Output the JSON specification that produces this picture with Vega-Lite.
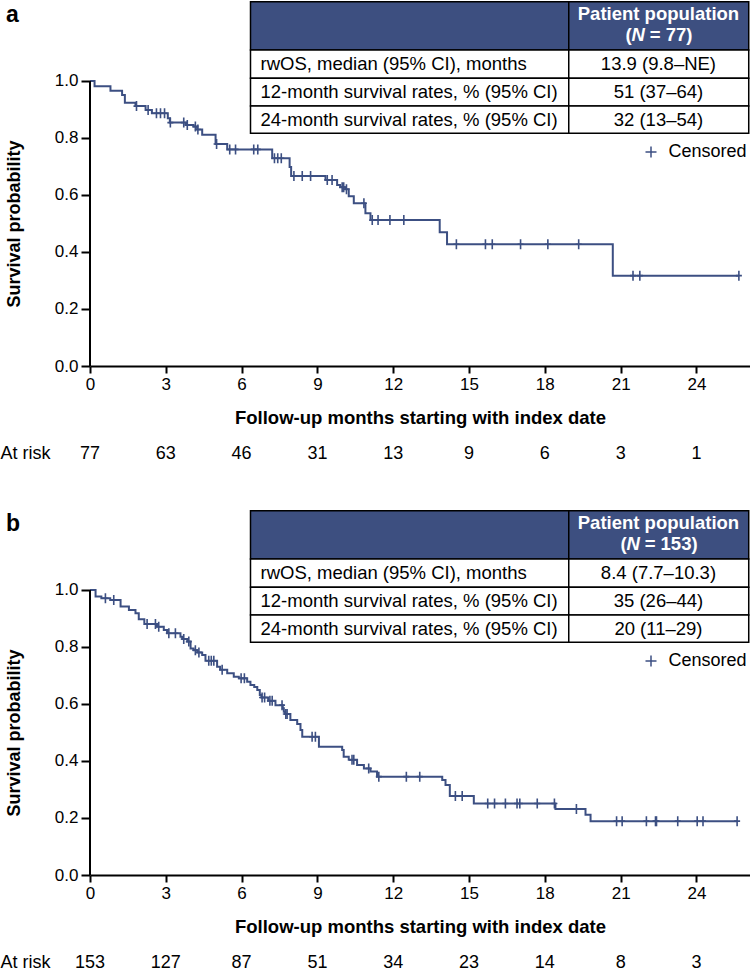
{
  "$schema": "https://vega.github.io/schema/vega-lite/v6.json",
  "padding": 0,
  "background": "white",
  "bounds": "flush",
  "spacing": 143,
  "config": {
    "view": {"stroke": null},
    "font": "Liberation Sans"
  },
  "resolve": {"scale": {"color": "independent"}, "legend": {"color": "independent"}},
  "datasets": {
    "km": [
      {"p":"a","t":0,"s":1,"c":0},{"p":"a","t":0.18,"s":0.982,"c":0},{"p":"a","t":0.81,"s":0.966,"c":0},{"p":"a","t":1.27,"s":0.951,"c":0},
      {"p":"a","t":1.38,"s":0.924,"c":0},{"p":"a","t":1.8,"s":0.912,"c":0},{"p":"a","t":1.84,"s":0.912,"c":1},{"p":"a","t":2.2,"s":0.898,"c":0},
      {"p":"a","t":2.3,"s":0.898,"c":1},{"p":"a","t":2.45,"s":0.887,"c":0},{"p":"a","t":2.63,"s":0.887,"c":1},{"p":"a","t":2.79,"s":0.887,"c":1},
      {"p":"a","t":2.95,"s":0.887,"c":1},{"p":"a","t":3.08,"s":0.869,"c":0},{"p":"a","t":3.16,"s":0.854,"c":0},{"p":"a","t":3.18,"s":0.854,"c":1},
      {"p":"a","t":3.71,"s":0.854,"c":1},{"p":"a","t":3.8,"s":0.846,"c":0},{"p":"a","t":3.85,"s":0.846,"c":1},{"p":"a","t":4.1,"s":0.84,"c":0},
      {"p":"a","t":4.17,"s":0.84,"c":1},{"p":"a","t":4.24,"s":0.83,"c":0},{"p":"a","t":4.27,"s":0.83,"c":1},{"p":"a","t":4.44,"s":0.811,"c":0},
      {"p":"a","t":4.97,"s":0.779,"c":0},{"p":"a","t":5.01,"s":0.779,"c":1},{"p":"a","t":5.43,"s":0.76,"c":0},{"p":"a","t":5.53,"s":0.76,"c":1},
      {"p":"a","t":5.76,"s":0.76,"c":1},{"p":"a","t":6.48,"s":0.76,"c":1},{"p":"a","t":6.64,"s":0.76,"c":1},{"p":"a","t":7.21,"s":0.729,"c":0},
      {"p":"a","t":7.3,"s":0.729,"c":1},{"p":"a","t":7.43,"s":0.729,"c":1},{"p":"a","t":7.57,"s":0.729,"c":1},{"p":"a","t":7.9,"s":0.698,"c":0},
      {"p":"a","t":7.96,"s":0.667,"c":0},{"p":"a","t":8.07,"s":0.667,"c":1},{"p":"a","t":8.4,"s":0.667,"c":1},{"p":"a","t":8.73,"s":0.667,"c":1},
      {"p":"a","t":9.32,"s":0.653,"c":0},{"p":"a","t":9.39,"s":0.653,"c":1},{"p":"a","t":9.58,"s":0.653,"c":1},{"p":"a","t":9.78,"s":0.635,"c":0},
      {"p":"a","t":9.9,"s":0.627,"c":0},{"p":"a","t":9.98,"s":0.627,"c":1},{"p":"a","t":10.04,"s":0.627,"c":1},{"p":"a","t":10.1,"s":0.62,"c":0},
      {"p":"a","t":10.15,"s":0.62,"c":1},{"p":"a","t":10.24,"s":0.596,"c":0},{"p":"a","t":10.44,"s":0.571,"c":0},{"p":"a","t":10.84,"s":0.571,"c":1},
      {"p":"a","t":10.9,"s":0.536,"c":0},{"p":"a","t":11.1,"s":0.512,"c":0},{"p":"a","t":11.17,"s":0.512,"c":1},{"p":"a","t":11.4,"s":0.512,"c":1},
      {"p":"a","t":11.87,"s":0.512,"c":1},{"p":"a","t":12.42,"s":0.512,"c":1},{"p":"a","t":13.84,"s":0.469,"c":0},{"p":"a","t":14.13,"s":0.427,"c":0},
      {"p":"a","t":14.5,"s":0.427,"c":1},{"p":"a","t":15.65,"s":0.427,"c":1},{"p":"a","t":15.92,"s":0.427,"c":1},{"p":"a","t":17.04,"s":0.427,"c":1},
      {"p":"a","t":18.12,"s":0.427,"c":1},{"p":"a","t":19.34,"s":0.427,"c":1},{"p":"a","t":20.69,"s":0.317,"c":0},{"p":"a","t":21.49,"s":0.317,"c":1},
      {"p":"a","t":21.76,"s":0.317,"c":1},{"p":"a","t":25.68,"s":0.317,"c":1},

      {"p":"b","t":0,"s":1,"c":0},{"p":"b","t":0.22,"s":0.977,"c":0},{"p":"b","t":0.45,"s":0.971,"c":0},{"p":"b","t":0.61,"s":0.971,"c":1},
      {"p":"b","t":0.8,"s":0.965,"c":0},{"p":"b","t":0.94,"s":0.965,"c":1},{"p":"b","t":1.21,"s":0.942,"c":0},{"p":"b","t":1.54,"s":0.93,"c":0},
      {"p":"b","t":1.8,"s":0.918,"c":0},{"p":"b","t":1.93,"s":0.897,"c":0},{"p":"b","t":2.15,"s":0.881,"c":0},{"p":"b","t":2.26,"s":0.881,"c":1},
      {"p":"b","t":2.59,"s":0.881,"c":1},{"p":"b","t":2.65,"s":0.871,"c":0},{"p":"b","t":2.72,"s":0.871,"c":1},{"p":"b","t":2.92,"s":0.86,"c":0},
      {"p":"b","t":3.05,"s":0.848,"c":0},{"p":"b","t":3.12,"s":0.848,"c":1},{"p":"b","t":3.38,"s":0.848,"c":1},{"p":"b","t":3.58,"s":0.836,"c":0},
      {"p":"b","t":3.65,"s":0.828,"c":0},{"p":"b","t":3.71,"s":0.828,"c":1},{"p":"b","t":3.85,"s":0.819,"c":0},{"p":"b","t":3.91,"s":0.819,"c":1},
      {"p":"b","t":3.98,"s":0.795,"c":0},{"p":"b","t":4.1,"s":0.789,"c":0},{"p":"b","t":4.17,"s":0.789,"c":1},{"p":"b","t":4.25,"s":0.781,"c":0},
      {"p":"b","t":4.31,"s":0.781,"c":1},{"p":"b","t":4.44,"s":0.772,"c":0},{"p":"b","t":4.57,"s":0.752,"c":0},{"p":"b","t":4.7,"s":0.752,"c":1},
      {"p":"b","t":4.8,"s":0.752,"c":1},{"p":"b","t":4.9,"s":0.752,"c":1},{"p":"b","t":5.03,"s":0.731,"c":0},{"p":"b","t":5.15,"s":0.72,"c":0},
      {"p":"b","t":5.23,"s":0.72,"c":1},{"p":"b","t":5.43,"s":0.708,"c":0},{"p":"b","t":5.69,"s":0.696,"c":0},{"p":"b","t":5.89,"s":0.69,"c":0},
      {"p":"b","t":5.98,"s":0.69,"c":1},{"p":"b","t":6.11,"s":0.69,"c":1},{"p":"b","t":6.22,"s":0.678,"c":0},{"p":"b","t":6.35,"s":0.667,"c":0},
      {"p":"b","t":6.5,"s":0.66,"c":0},{"p":"b","t":6.62,"s":0.649,"c":0},{"p":"b","t":6.72,"s":0.632,"c":0},{"p":"b","t":6.78,"s":0.623,"c":0},
      {"p":"b","t":6.81,"s":0.623,"c":1},{"p":"b","t":6.91,"s":0.623,"c":1},{"p":"b","t":7.05,"s":0.611,"c":0},{"p":"b","t":7.12,"s":0.611,"c":1},
      {"p":"b","t":7.21,"s":0.611,"c":1},{"p":"b","t":7.34,"s":0.596,"c":0},{"p":"b","t":7.6,"s":0.596,"c":1},{"p":"b","t":7.63,"s":0.585,"c":0},
      {"p":"b","t":7.67,"s":0.573,"c":0},{"p":"b","t":7.72,"s":0.565,"c":0},{"p":"b","t":7.75,"s":0.565,"c":1},{"p":"b","t":7.8,"s":0.565,"c":1},
      {"p":"b","t":7.93,"s":0.544,"c":0},{"p":"b","t":8.2,"s":0.53,"c":0},{"p":"b","t":8.33,"s":0.509,"c":0},{"p":"b","t":8.4,"s":0.485,"c":0},
      {"p":"b","t":8.79,"s":0.485,"c":1},{"p":"b","t":8.92,"s":0.485,"c":1},{"p":"b","t":9.06,"s":0.45,"c":0},{"p":"b","t":9.98,"s":0.439,"c":0},
      {"p":"b","t":10.04,"s":0.415,"c":0},{"p":"b","t":10.24,"s":0.404,"c":0},{"p":"b","t":10.37,"s":0.404,"c":1},{"p":"b","t":10.44,"s":0.404,"c":1},
      {"p":"b","t":10.57,"s":0.386,"c":0},{"p":"b","t":10.84,"s":0.374,"c":0},{"p":"b","t":11.03,"s":0.374,"c":1},{"p":"b","t":11.1,"s":0.363,"c":0},
      {"p":"b","t":11.36,"s":0.345,"c":0},{"p":"b","t":11.43,"s":0.345,"c":1},{"p":"b","t":12.52,"s":0.345,"c":1},{"p":"b","t":13.05,"s":0.345,"c":1},
      {"p":"b","t":13.94,"s":0.333,"c":0},{"p":"b","t":14.07,"s":0.316,"c":0},{"p":"b","t":14.24,"s":0.277,"c":0},{"p":"b","t":14.46,"s":0.277,"c":1},
      {"p":"b","t":14.73,"s":0.277,"c":1},{"p":"b","t":15.19,"s":0.251,"c":0},{"p":"b","t":15.74,"s":0.251,"c":1},{"p":"b","t":16.01,"s":0.251,"c":1},
      {"p":"b","t":16.44,"s":0.251,"c":1},{"p":"b","t":16.9,"s":0.251,"c":1},{"p":"b","t":17.01,"s":0.251,"c":1},{"p":"b","t":17.7,"s":0.251,"c":1},
      {"p":"b","t":18.38,"s":0.251,"c":1},{"p":"b","t":18.42,"s":0.232,"c":0},{"p":"b","t":19.25,"s":0.232,"c":1},{"p":"b","t":19.61,"s":0.211,"c":0},
      {"p":"b","t":19.81,"s":0.189,"c":0},{"p":"b","t":20.84,"s":0.189,"c":1},{"p":"b","t":21.06,"s":0.189,"c":1},{"p":"b","t":22.02,"s":0.189,"c":1},
      {"p":"b","t":22.38,"s":0.189,"c":1},{"p":"b","t":22.42,"s":0.189,"c":1},{"p":"b","t":23.26,"s":0.189,"c":1},{"p":"b","t":24.03,"s":0.189,"c":1},
      {"p":"b","t":24.26,"s":0.189,"c":1},{"p":"b","t":25.61,"s":0.189,"c":1}
    ],
    "risk": [
      {"p":"a","t":0,"n":77},{"p":"a","t":3,"n":63},{"p":"a","t":6,"n":46},{"p":"a","t":9,"n":31},{"p":"a","t":12,"n":13},
      {"p":"a","t":15,"n":9},{"p":"a","t":18,"n":6},{"p":"a","t":21,"n":3},{"p":"a","t":24,"n":1},
      {"p":"b","t":0,"n":153},{"p":"b","t":3,"n":127},{"p":"b","t":6,"n":87},{"p":"b","t":9,"n":51},{"p":"b","t":12,"n":34},
      {"p":"b","t":15,"n":23},{"p":"b","t":18,"n":14},{"p":"b","t":21,"n":8},{"p":"b","t":24,"n":3}
    ],
    "cells": [
      {"kind":"head","x1":6.352,"x2":18.947,"y1":1.1088,"y2":1.2782},
      {"kind":"head","x1":18.947,"x2":26.07,"y1":1.1088,"y2":1.2782},
      {"kind":"body","x1":6.352,"x2":18.947,"y1":1.0095,"y2":1.1088},
      {"kind":"body","x1":18.947,"x2":26.07,"y1":1.0095,"y2":1.1088},
      {"kind":"body","x1":6.352,"x2":18.947,"y1":0.9123,"y2":1.0095},
      {"kind":"body","x1":18.947,"x2":26.07,"y1":0.9123,"y2":1.0095},
      {"kind":"body","x1":6.352,"x2":18.947,"y1":0.8165,"y2":0.9123},
      {"kind":"body","x1":18.947,"x2":26.07,"y1":0.8165,"y2":0.9123}
    ],
    "txt": [
      {"p":"a","role":"panel","x":-3.32,"y":1.207,"text":"a"},
      {"p":"a","role":"hdr","x":22.497,"y":1.2351,"text":"Patient population"},
      {"p":"a","role":"hdrL","x":21.44,"y":1.1614,"text":"("},
      {"p":"a","role":"hdrN","x":21.696,"y":1.1614,"text":"N"},
      {"p":"a","role":"hdrR","x":22.15,"y":1.1614,"text":"= 77)"},
      {"p":"a","role":"lbl","x":6.748,"y":1.0589,"text":"rwOS, median (95% CI), months"},
      {"p":"a","role":"lbl","x":6.748,"y":0.9607,"text":"12-month survival rates, % (95% CI)"},
      {"p":"a","role":"lbl","x":6.748,"y":0.8642,"text":"24-month survival rates, % (95% CI)"},
      {"p":"a","role":"val","x":22.497,"y":1.0589,"text":"13.9 (9.8–NE)"},
      {"p":"a","role":"val","x":22.497,"y":0.9607,"text":"51 (37–64)"},
      {"p":"a","role":"val","x":22.497,"y":0.8642,"text":"32 (13–54)"},
      {"p":"a","role":"risklbl","x":-3.54,"y":-0.308,"text":"At risk"},
      {"p":"b","role":"panel","x":-3.32,"y":1.207,"text":"b"},
      {"p":"b","role":"hdr","x":22.497,"y":1.2351,"text":"Patient population"},
      {"p":"b","role":"hdrL","x":21.24,"y":1.1614,"text":"("},
      {"p":"b","role":"hdrN","x":21.5,"y":1.1614,"text":"N"},
      {"p":"b","role":"hdrR","x":21.95,"y":1.1614,"text":"= 153)"},
      {"p":"b","role":"lbl","x":6.748,"y":1.0589,"text":"rwOS, median (95% CI), months"},
      {"p":"b","role":"lbl","x":6.748,"y":0.9607,"text":"12-month survival rates, % (95% CI)"},
      {"p":"b","role":"lbl","x":6.748,"y":0.8642,"text":"24-month survival rates, % (95% CI)"},
      {"p":"b","role":"val","x":22.497,"y":1.0589,"text":"8.4 (7.7–10.3)"},
      {"p":"b","role":"val","x":22.497,"y":0.9607,"text":"35 (26–44)"},
      {"p":"b","role":"val","x":22.497,"y":0.8642,"text":"20 (11–29)"},
      {"p":"b","role":"risklbl","x":-3.54,"y":-0.308,"text":"At risk"}
    ]
  },
  "vconcat": [
    {
      "width": 660, "height": 366,
      "layer": [
        {"data": {"name": "km"}, "transform": [{"filter": "datum.p == 'a'"}],
         "mark": {"type": "line", "interpolate": "step-after", "color": "#3c4f82", "strokeWidth": 2},
         "encoding": {
           "x": {"field": "t", "type": "quantitative", "scale": {"domain": [0, 26.12], "nice": false, "zero": false},
                 "axis": {"title": "Follow-up months starting with index date", "values": [0,3,6,9,12,15,18,21,24], "format": "d", "grid": false,
                          "domainColor": "black", "domainWidth": 2, "tickColor": "black", "tickWidth": 2, "tickSize": 7,
                          "labelFontSize": 17, "labelColor": "black", "labelPadding": 3, "labelFlush": false, "labelOverlap": false,
                          "titleFontSize": 18.5, "titleFontWeight": "bold", "titleColor": "black", "titleBaseline": "middle", "titleY": 51}},
           "y": {"field": "s", "type": "quantitative", "scale": {"domain": [0, 1.2842], "nice": false},
                 "axis": {"title": "Survival probability", "values": [0,0.2,0.4,0.6,0.8,1], "format": ".1f", "grid": false, "domain": false,
                          "tickColor": "black", "tickWidth": 2, "tickSize": 9, "labelFontSize": 17, "labelColor": "black", "labelPadding": 3,
                          "labelFlush": false, "labelOverlap": false,
                          "titleFontSize": 18, "titleFontWeight": "bold", "titleColor": "black", "titleAngle": 270, "titleAlign": "center",
                          "titleBaseline": "middle", "titleX": -75.5, "titleY": 223.5}}
         }},
        {"data": {"name": "cells"}, "transform": [{"filter": "datum.kind == 'head'"}],
         "mark": {"type": "rect", "fill": "#3d4f80", "stroke": "black", "strokeWidth": 1.5},
         "encoding": {"x": {"field": "x1", "type": "quantitative"}, "x2": {"field": "x2"},
                      "y": {"field": "y1", "type": "quantitative"}, "y2": {"field": "y2"}}},
        {"data": {"name": "cells"}, "transform": [{"filter": "datum.kind == 'body'"}],
         "mark": {"type": "rect", "fill": "white", "stroke": "black", "strokeWidth": 1.5},
         "encoding": {"x": {"field": "x1", "type": "quantitative"}, "x2": {"field": "x2"},
                      "y": {"field": "y1", "type": "quantitative"}, "y2": {"field": "y2"}}},
        {"data": {"values": [{}]},
         "mark": {"type": "rule", "color": "black", "strokeWidth": 2},
         "encoding": {"x": {"datum": 0, "type": "quantitative"},
                      "y": {"datum": 0, "type": "quantitative"}, "y2": {"datum": 1}}},
        {"data": {"name": "km"}, "transform": [{"filter": "datum.p == 'a' && datum.c == 1"}],
         "mark": {"type": "point", "shape": "M0,-1V1M-0.6,0H0.6", "filled": false, "strokeWidth": 1.6, "size": 100, "opacity": 1},
         "encoding": {
           "x": {"field": "t", "type": "quantitative"},
           "y": {"field": "s", "type": "quantitative"},
           "color": {"datum": "Censored", "type": "nominal", "scale": {"domain": ["Censored"], "range": ["#3c4f82"]},
                     "legend": {"orient": "none", "legendX": 552, "legendY": 143, "title": null, "padding": 0,
                                "symbolType": "M0,-1V1M-1,0H1", "symbolSize": 121, "symbolStrokeWidth": 1.5, "symbolStrokeColor": "#5266a0",
                                "labelFontSize": 18, "labelColor": "black", "labelOffset": 8.5}}
         }},
        {"data": {"name": "risk"}, "transform": [{"filter": "datum.p == 'a'"}],
         "mark": {"type": "text", "fontSize": 18, "color": "black", "align": "center", "baseline": "middle"},
         "encoding": {"x": {"field": "t", "type": "quantitative"},
                      "y": {"datum": -0.308, "type": "quantitative"},
                      "text": {"field": "n", "type": "quantitative"}}},
        {"data": {"name": "txt"}, "transform": [{"filter": "datum.p == 'a' && datum.role == 'hdr'"}],
         "mark": {"type": "text", "fontSize": 18.5, "fontWeight": "bold", "color": "white", "align": "center", "baseline": "middle"},
         "encoding": {"x": {"field": "x", "type": "quantitative"}, "y": {"field": "y", "type": "quantitative"}, "text": {"field": "text"}}},
        {"data": {"name": "txt"}, "transform": [{"filter": "datum.p == 'a' && datum.role == 'hdrL'"}],
         "mark": {"type": "text", "fontSize": 18.5, "fontWeight": "bold", "color": "white", "align": "right", "baseline": "middle"},
         "encoding": {"x": {"field": "x", "type": "quantitative"}, "y": {"field": "y", "type": "quantitative"}, "text": {"field": "text"}}},
        {"data": {"name": "txt"}, "transform": [{"filter": "datum.p == 'a' && datum.role == 'hdrN'"}],
         "mark": {"type": "text", "fontSize": 18.5, "fontWeight": "bold", "fontStyle": "italic", "color": "white", "align": "center", "baseline": "middle"},
         "encoding": {"x": {"field": "x", "type": "quantitative"}, "y": {"field": "y", "type": "quantitative"}, "text": {"field": "text"}}},
        {"data": {"name": "txt"}, "transform": [{"filter": "datum.p == 'a' && datum.role == 'hdrR'"}],
         "mark": {"type": "text", "fontSize": 18.5, "fontWeight": "bold", "color": "white", "align": "left", "baseline": "middle"},
         "encoding": {"x": {"field": "x", "type": "quantitative"}, "y": {"field": "y", "type": "quantitative"}, "text": {"field": "text"}}},
        {"data": {"name": "txt"}, "transform": [{"filter": "datum.p == 'a' && datum.role == 'lbl'"}],
         "mark": {"type": "text", "fontSize": 18.5, "color": "black", "align": "left", "baseline": "middle"},
         "encoding": {"x": {"field": "x", "type": "quantitative"}, "y": {"field": "y", "type": "quantitative"}, "text": {"field": "text"}}},
        {"data": {"name": "txt"}, "transform": [{"filter": "datum.p == 'a' && datum.role == 'val'"}],
         "mark": {"type": "text", "fontSize": 18.5, "color": "black", "align": "center", "baseline": "middle"},
         "encoding": {"x": {"field": "x", "type": "quantitative"}, "y": {"field": "y", "type": "quantitative"}, "text": {"field": "text"}}},
        {"data": {"name": "txt"}, "transform": [{"filter": "datum.p == 'a' && datum.role == 'panel'"}],
         "mark": {"type": "text", "fontSize": 23, "fontWeight": "bold", "color": "black", "align": "left", "baseline": "alphabetic"},
         "encoding": {"x": {"field": "x", "type": "quantitative"}, "y": {"field": "y", "type": "quantitative"}, "text": {"field": "text"}}},
        {"data": {"name": "txt"}, "transform": [{"filter": "datum.p == 'a' && datum.role == 'risklbl'"}],
         "mark": {"type": "text", "fontSize": 18, "color": "black", "align": "left", "baseline": "middle"},
         "encoding": {"x": {"field": "x", "type": "quantitative"}, "y": {"field": "y", "type": "quantitative"}, "text": {"field": "text"}}}
      ]
    },
    {
      "width": 660, "height": 366,
      "layer": [
        {"data": {"name": "km"}, "transform": [{"filter": "datum.p == 'b'"}],
         "mark": {"type": "line", "interpolate": "step-after", "color": "#3c4f82", "strokeWidth": 2},
         "encoding": {
           "x": {"field": "t", "type": "quantitative", "scale": {"domain": [0, 26.12], "nice": false, "zero": false},
                 "axis": {"title": "Follow-up months starting with index date", "values": [0,3,6,9,12,15,18,21,24], "format": "d", "grid": false,
                          "domainColor": "black", "domainWidth": 2, "tickColor": "black", "tickWidth": 2, "tickSize": 7,
                          "labelFontSize": 17, "labelColor": "black", "labelPadding": 3, "labelFlush": false, "labelOverlap": false,
                          "titleFontSize": 18.5, "titleFontWeight": "bold", "titleColor": "black", "titleBaseline": "middle", "titleY": 51}},
           "y": {"field": "s", "type": "quantitative", "scale": {"domain": [0, 1.2842], "nice": false},
                 "axis": {"title": "Survival probability", "values": [0,0.2,0.4,0.6,0.8,1], "format": ".1f", "grid": false, "domain": false,
                          "tickColor": "black", "tickWidth": 2, "tickSize": 9, "labelFontSize": 17, "labelColor": "black", "labelPadding": 3,
                          "labelFlush": false, "labelOverlap": false,
                          "titleFontSize": 18, "titleFontWeight": "bold", "titleColor": "black", "titleAngle": 270, "titleAlign": "center",
                          "titleBaseline": "middle", "titleX": -75.5, "titleY": 223.5}}
         }},
        {"data": {"name": "cells"}, "transform": [{"filter": "datum.kind == 'head'"}],
         "mark": {"type": "rect", "fill": "#3d4f80", "stroke": "black", "strokeWidth": 1.5},
         "encoding": {"x": {"field": "x1", "type": "quantitative"}, "x2": {"field": "x2"},
                      "y": {"field": "y1", "type": "quantitative"}, "y2": {"field": "y2"}}},
        {"data": {"name": "cells"}, "transform": [{"filter": "datum.kind == 'body'"}],
         "mark": {"type": "rect", "fill": "white", "stroke": "black", "strokeWidth": 1.5},
         "encoding": {"x": {"field": "x1", "type": "quantitative"}, "x2": {"field": "x2"},
                      "y": {"field": "y1", "type": "quantitative"}, "y2": {"field": "y2"}}},
        {"data": {"values": [{}]},
         "mark": {"type": "rule", "color": "black", "strokeWidth": 2},
         "encoding": {"x": {"datum": 0, "type": "quantitative"},
                      "y": {"datum": 0, "type": "quantitative"}, "y2": {"datum": 1}}},
        {"data": {"name": "km"}, "transform": [{"filter": "datum.p == 'b' && datum.c == 1"}],
         "mark": {"type": "point", "shape": "M0,-1V1M-0.6,0H0.6", "filled": false, "strokeWidth": 1.6, "size": 100, "opacity": 1},
         "encoding": {
           "x": {"field": "t", "type": "quantitative"},
           "y": {"field": "s", "type": "quantitative"},
           "color": {"datum": "Censored", "type": "nominal", "scale": {"domain": ["Censored"], "range": ["#3c4f82"]},
                     "legend": {"orient": "none", "legendX": 552, "legendY": 143, "title": null, "padding": 0,
                                "symbolType": "M0,-1V1M-1,0H1", "symbolSize": 121, "symbolStrokeWidth": 1.5, "symbolStrokeColor": "#5266a0",
                                "labelFontSize": 18, "labelColor": "black", "labelOffset": 8.5}}
         }},
        {"data": {"name": "risk"}, "transform": [{"filter": "datum.p == 'b'"}],
         "mark": {"type": "text", "fontSize": 18, "color": "black", "align": "center", "baseline": "middle"},
         "encoding": {"x": {"field": "t", "type": "quantitative"},
                      "y": {"datum": -0.308, "type": "quantitative"},
                      "text": {"field": "n", "type": "quantitative"}}},
        {"data": {"name": "txt"}, "transform": [{"filter": "datum.p == 'b' && datum.role == 'hdr'"}],
         "mark": {"type": "text", "fontSize": 18.5, "fontWeight": "bold", "color": "white", "align": "center", "baseline": "middle"},
         "encoding": {"x": {"field": "x", "type": "quantitative"}, "y": {"field": "y", "type": "quantitative"}, "text": {"field": "text"}}},
        {"data": {"name": "txt"}, "transform": [{"filter": "datum.p == 'b' && datum.role == 'hdrL'"}],
         "mark": {"type": "text", "fontSize": 18.5, "fontWeight": "bold", "color": "white", "align": "right", "baseline": "middle"},
         "encoding": {"x": {"field": "x", "type": "quantitative"}, "y": {"field": "y", "type": "quantitative"}, "text": {"field": "text"}}},
        {"data": {"name": "txt"}, "transform": [{"filter": "datum.p == 'b' && datum.role == 'hdrN'"}],
         "mark": {"type": "text", "fontSize": 18.5, "fontWeight": "bold", "fontStyle": "italic", "color": "white", "align": "center", "baseline": "middle"},
         "encoding": {"x": {"field": "x", "type": "quantitative"}, "y": {"field": "y", "type": "quantitative"}, "text": {"field": "text"}}},
        {"data": {"name": "txt"}, "transform": [{"filter": "datum.p == 'b' && datum.role == 'hdrR'"}],
         "mark": {"type": "text", "fontSize": 18.5, "fontWeight": "bold", "color": "white", "align": "left", "baseline": "middle"},
         "encoding": {"x": {"field": "x", "type": "quantitative"}, "y": {"field": "y", "type": "quantitative"}, "text": {"field": "text"}}},
        {"data": {"name": "txt"}, "transform": [{"filter": "datum.p == 'b' && datum.role == 'lbl'"}],
         "mark": {"type": "text", "fontSize": 18.5, "color": "black", "align": "left", "baseline": "middle"},
         "encoding": {"x": {"field": "x", "type": "quantitative"}, "y": {"field": "y", "type": "quantitative"}, "text": {"field": "text"}}},
        {"data": {"name": "txt"}, "transform": [{"filter": "datum.p == 'b' && datum.role == 'val'"}],
         "mark": {"type": "text", "fontSize": 18.5, "color": "black", "align": "center", "baseline": "middle"},
         "encoding": {"x": {"field": "x", "type": "quantitative"}, "y": {"field": "y", "type": "quantitative"}, "text": {"field": "text"}}},
        {"data": {"name": "txt"}, "transform": [{"filter": "datum.p == 'b' && datum.role == 'panel'"}],
         "mark": {"type": "text", "fontSize": 23, "fontWeight": "bold", "color": "black", "align": "left", "baseline": "alphabetic"},
         "encoding": {"x": {"field": "x", "type": "quantitative"}, "y": {"field": "y", "type": "quantitative"}, "text": {"field": "text"}}},
        {"data": {"name": "txt"}, "transform": [{"filter": "datum.p == 'b' && datum.role == 'risklbl'"}],
         "mark": {"type": "text", "fontSize": 18, "color": "black", "align": "left", "baseline": "middle"},
         "encoding": {"x": {"field": "x", "type": "quantitative"}, "y": {"field": "y", "type": "quantitative"}, "text": {"field": "text"}}}
      ]
    }
  ]
}
